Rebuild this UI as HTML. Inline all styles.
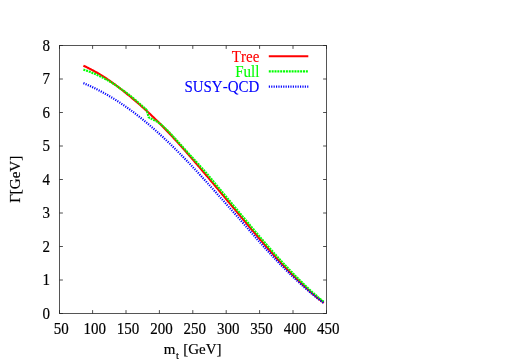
<!DOCTYPE html>
<html><head><meta charset="utf-8"><title>plot</title>
<style>html,body{margin:0;padding:0;background:#fff;width:512px;height:359px;overflow:hidden}</style>
</head><body>
<svg width="512" height="359" viewBox="0 0 512 359" style="position:absolute;left:0;top:0;will-change:transform">
<rect x="0" y="0" width="512" height="359" fill="#fff"/>
<path d="M83.40,65.68 L84.61,66.23 L85.82,66.80 L87.02,67.39 L88.23,67.98 L89.44,68.59 L90.65,69.22 L91.86,69.85 L93.06,70.50 L94.27,71.16 L95.48,71.83 L96.69,72.52 L97.90,73.22 L99.10,73.94 L100.31,74.66 L101.52,75.40 L102.73,76.16 L103.94,76.92 L105.14,77.71 L106.35,78.50 L107.56,79.31 L108.77,80.13 L109.98,80.96 L111.18,81.81 L112.39,82.67 L113.60,83.54 L114.81,84.43 L116.02,85.32 L117.23,86.23 L118.43,87.15 L119.64,88.08 L120.85,89.01 L122.06,89.96 L123.27,90.92 L124.47,91.88 L125.68,92.85 L126.89,93.83 L128.10,94.82 L129.31,95.81 L130.51,96.81 L131.72,97.82 L132.93,98.83 L134.14,99.85 L135.35,100.88 L136.55,101.91 L137.76,102.96 L138.97,104.01 L140.18,105.06 L141.39,106.13 L142.59,107.20 L143.80,108.29 L145.01,109.38 L146.22,110.48 L147.43,111.59 L148.63,112.71 L149.84,113.84 L151.05,114.98 L152.26,116.14 L153.47,117.30 L154.67,118.47 L155.88,119.65 L157.09,120.84 L158.30,122.04 L159.51,123.25 L160.71,124.47 L161.92,125.70 L163.13,126.94 L164.34,128.19 L165.55,129.44 L166.75,130.71 L167.96,131.98 L169.17,133.26 L170.38,134.54 L171.59,135.84 L172.79,137.14 L174.00,138.44 L175.21,139.76 L176.42,141.08 L177.63,142.40 L178.84,143.74 L180.04,145.08 L181.25,146.42 L182.46,147.77 L183.67,149.13 L184.88,150.49 L186.08,151.86 L187.29,153.23 L188.50,154.61 L189.71,155.99 L190.92,157.37 L192.12,158.76 L193.33,160.16 L194.54,161.56 L195.75,162.96 L196.96,164.37 L198.16,165.78 L199.37,167.19 L200.58,168.61 L201.79,170.03 L203.00,171.45 L204.20,172.87 L205.41,174.30 L206.62,175.73 L207.83,177.17 L209.04,178.60 L210.24,180.04 L211.45,181.48 L212.66,182.92 L213.87,184.36 L215.08,185.80 L216.28,187.24 L217.49,188.69 L218.70,190.13 L219.91,191.58 L221.12,193.03 L222.32,194.47 L223.53,195.92 L224.74,197.37 L225.95,198.82 L227.16,200.26 L228.36,201.71 L229.57,203.16 L230.78,204.61 L231.99,206.05 L233.20,207.50 L234.41,208.94 L235.61,210.39 L236.82,211.83 L238.03,213.28 L239.24,214.72 L240.45,216.16 L241.65,217.60 L242.86,219.04 L244.07,220.48 L245.28,221.92 L246.49,223.35 L247.69,224.79 L248.90,226.22 L250.11,227.65 L251.32,229.08 L252.53,230.50 L253.73,231.92 L254.94,233.34 L256.15,234.76 L257.36,236.18 L258.57,237.59 L259.77,238.99 L260.98,240.40 L262.19,241.80 L263.40,243.19 L264.61,244.58 L265.81,245.97 L267.02,247.35 L268.23,248.72 L269.44,250.09 L270.65,251.45 L271.85,252.81 L273.06,254.16 L274.27,255.50 L275.48,256.84 L276.69,258.17 L277.89,259.49 L279.10,260.80 L280.31,262.11 L281.52,263.40 L282.73,264.69 L283.93,265.97 L285.14,267.24 L286.35,268.51 L287.56,269.76 L288.77,271.00 L289.97,272.24 L291.18,273.46 L292.39,274.67 L293.60,275.88 L294.81,277.07 L296.02,278.25 L297.22,279.43 L298.43,280.59 L299.64,281.74 L300.85,282.90 L302.06,284.07 L303.26,285.22 L304.47,286.36 L305.68,287.49 L306.89,288.60 L308.10,289.71 L309.30,290.80 L310.51,291.88 L311.72,292.94 L312.93,294.00 L314.14,295.04 L315.34,296.07 L316.55,297.08 L317.76,298.08 L318.97,299.07 L320.18,300.04 L321.38,301.00 L322.59,301.94 L323.80,302.87" fill="none" stroke="#ff0000" stroke-width="2.1"/>
<path d="M83.40,69.58 L84.47,69.93 L85.54,70.29 L86.61,70.66 L87.68,71.04 L88.75,71.43 L89.82,71.84 L90.89,72.25 L91.96,72.68 L93.03,73.12 L94.09,73.56 L95.16,74.03 L96.23,74.50 L97.30,74.98 L98.37,75.48 L99.44,75.98 L100.51,76.50 L101.58,77.04 L102.65,77.58 L103.72,78.14 L104.79,78.70 L105.86,79.28 L106.93,79.88 L108.00,80.48 L109.07,81.10 L110.14,81.73 L111.21,82.38 L112.28,83.04 L113.35,83.71 L114.42,84.39 L115.48,85.09 L116.55,85.81 L117.62,86.55 L118.69,87.29 L119.76,88.04 L120.83,88.79 L121.90,89.54 L122.97,90.31 L124.04,91.08 L125.11,91.86 L126.18,92.64 L127.25,93.43 L128.32,94.23 L129.39,95.03 L130.46,95.87 L131.53,96.76 L132.60,97.65 L133.67,98.55 L134.74,99.46 L135.81,100.37 L136.87,101.29 L137.94,102.21 L139.01,103.14 L140.08,104.08 L141.15,105.02 L142.22,105.97 L143.29,106.93 L144.36,107.89 L145.43,108.86 L146.50,109.84 L147.80,114.00 L148.60,117.00 L149.80,118.10 L151.60,118.80 L154.40,120.30 L157.00,121.55 L158.20,122.44 L159.40,123.33 L160.60,124.23 L161.80,125.14 L163.00,126.21 L164.20,127.32 L165.40,128.45 L166.60,129.57 L167.80,130.79 L169.00,132.05 L170.20,133.32 L171.40,134.59 L172.60,135.87 L173.80,137.16 L175.00,138.46 L176.20,139.76 L177.40,141.07 L178.60,142.39 L179.80,143.71 L181.00,145.03 L182.20,146.37 L183.40,147.71 L184.60,149.05 L185.80,150.40 L187.00,151.75 L188.20,153.10 L189.40,154.39 L190.60,155.69 L191.80,156.98 L193.00,158.29 L194.20,159.60 L195.40,160.91 L196.60,162.22 L197.80,163.54 L199.00,164.86 L200.20,166.18 L201.40,167.51 L202.60,168.84 L203.80,170.18 L205.00,171.51 L206.20,172.86 L207.40,174.28 L208.60,175.71 L209.80,177.13 L211.00,178.56 L212.20,179.99 L213.40,181.42 L214.60,182.86 L215.80,184.29 L217.00,185.73 L218.20,187.16 L219.40,188.60 L220.60,190.04 L221.80,191.48 L223.00,192.92 L224.20,194.36 L225.40,195.80 L226.60,197.24 L227.80,198.68 L229.00,200.12 L230.20,201.56 L231.40,203.00 L232.60,204.44 L233.80,205.87 L235.00,207.31 L236.20,208.75 L237.40,210.19 L238.60,211.63 L239.80,213.06 L241.00,214.50 L242.20,215.93 L243.40,217.36 L244.60,218.80 L245.80,220.23 L247.00,221.66 L248.20,223.08 L249.40,224.51 L250.60,225.93 L251.80,227.36 L253.00,228.78 L254.20,230.19 L255.40,231.61 L256.60,233.02 L257.80,234.43 L259.00,235.84 L260.20,237.24 L261.40,238.64 L262.60,240.04 L263.80,241.43 L265.00,242.82 L266.20,244.20 L267.40,245.58 L268.60,246.95 L269.80,248.32 L271.00,249.68 L272.20,251.03 L273.40,252.38 L274.60,253.72 L275.80,255.06 L277.00,256.39 L278.20,257.71 L279.40,259.03 L280.60,260.33 L281.80,261.63 L283.00,262.92 L284.20,264.20 L285.40,265.48 L286.60,266.74 L287.80,268.00 L289.00,269.25 L290.20,270.49 L291.40,271.74 L292.60,272.99 L293.80,274.22 L295.00,275.44 L296.20,276.66 L297.40,277.86 L298.60,279.05 L299.80,280.23 L301.00,281.40 L302.20,282.58 L303.40,283.76 L304.60,284.93 L305.80,286.09 L307.00,287.24 L308.20,288.37 L309.40,289.49 L310.60,290.60 L311.80,291.70 L313.00,292.78 L314.20,293.85 L315.40,294.90 L316.60,295.95 L317.80,296.98 L319.00,297.99 L320.20,298.99 L321.40,299.98 L322.60,300.95 L323.80,301.91" fill="none" stroke="#00ff00" stroke-width="2.2" stroke-dasharray="2.0 0.85"/>
<path d="M83.40,83.12 L84.61,83.62 L85.82,84.14 L87.02,84.66 L88.23,85.20 L89.44,85.74 L90.65,86.30 L91.86,86.86 L93.06,87.43 L94.27,88.01 L95.48,88.60 L96.69,89.20 L97.90,89.82 L99.10,90.44 L100.31,91.07 L101.52,91.71 L102.73,92.36 L103.94,93.02 L105.14,93.69 L106.35,94.37 L107.56,95.06 L108.77,95.76 L109.98,96.47 L111.18,97.19 L112.39,97.92 L113.60,98.66 L114.81,99.41 L116.02,100.17 L117.23,100.94 L118.43,101.72 L119.64,102.51 L120.85,103.31 L122.06,104.12 L123.27,104.94 L124.47,105.77 L125.68,106.61 L126.89,107.46 L128.10,108.32 L129.31,109.19 L130.51,110.07 L131.72,110.95 L132.93,111.85 L134.14,112.76 L135.35,113.68 L136.55,114.61 L137.76,115.54 L138.97,116.49 L140.18,117.45 L141.39,118.41 L142.59,119.39 L143.80,120.37 L145.01,121.36 L146.22,122.36 L147.43,123.38 L148.63,124.40 L149.84,125.43 L151.05,126.46 L152.26,127.51 L153.47,128.57 L154.67,129.63 L155.88,130.70 L157.09,131.78 L158.30,132.87 L159.51,133.97 L160.71,135.08 L161.92,136.19 L163.13,137.31 L164.34,138.44 L165.55,139.58 L166.75,140.73 L167.96,141.88 L169.17,143.04 L170.38,144.21 L171.59,145.38 L172.79,146.57 L174.00,147.76 L175.21,148.95 L176.42,150.16 L177.63,151.37 L178.84,152.59 L180.04,153.81 L181.25,155.04 L182.46,156.28 L183.67,157.52 L184.88,158.77 L186.08,160.02 L187.29,161.28 L188.50,162.55 L189.71,163.82 L190.92,165.10 L192.12,166.38 L193.33,167.67 L194.54,168.96 L195.75,170.25 L196.96,171.55 L198.16,172.86 L199.37,174.17 L200.58,175.48 L201.79,176.80 L203.00,178.12 L204.20,179.45 L205.41,180.77 L206.62,182.10 L207.83,183.44 L209.04,184.77 L210.24,186.11 L211.45,187.45 L212.66,188.80 L213.87,190.14 L215.08,191.49 L216.28,192.84 L217.49,194.19 L218.70,195.54 L219.91,196.89 L221.12,198.25 L222.32,199.60 L223.53,200.96 L224.74,202.31 L225.95,203.67 L227.16,205.03 L228.36,206.39 L229.57,207.75 L230.78,209.11 L231.99,210.47 L233.20,211.83 L234.41,213.19 L235.61,214.56 L236.82,215.92 L238.03,217.29 L239.24,218.65 L240.45,220.02 L241.65,221.41 L242.86,222.80 L244.07,224.19 L245.28,225.58 L246.49,226.97 L247.69,228.36 L248.90,229.75 L250.11,231.14 L251.32,232.52 L252.53,233.91 L253.73,235.29 L254.94,236.68 L256.15,238.05 L257.36,239.43 L258.57,240.80 L259.77,242.17 L260.98,243.52 L262.19,244.86 L263.40,246.19 L264.61,247.52 L265.81,248.85 L267.02,250.17 L268.23,251.48 L269.44,252.79 L270.65,254.09 L271.85,255.39 L273.06,256.67 L274.27,257.96 L275.48,259.23 L276.69,260.50 L277.89,261.76 L279.10,263.01 L280.31,264.26 L281.52,265.50 L282.73,266.73 L283.93,267.95 L285.14,269.16 L286.35,270.37 L287.56,271.56 L288.77,272.75 L289.97,273.93 L291.18,275.10 L292.39,276.26 L293.60,277.41 L294.81,278.55 L296.02,279.69 L297.22,280.81 L298.43,281.92 L299.64,283.03 L300.85,284.13 L302.06,285.23 L303.26,286.33 L304.47,287.41 L305.68,288.48 L306.89,289.54 L308.10,290.58 L309.30,291.62 L310.51,292.64 L311.72,293.66 L312.93,294.66 L314.14,295.65 L315.34,296.62 L316.55,297.59 L317.76,298.54 L318.97,299.48 L320.18,300.40 L321.38,301.31 L322.59,302.21 L323.80,303.10" fill="none" stroke="#0000ff" stroke-width="2.2" stroke-dasharray="1.15 1.25"/>
<path d="M268.8,56.2 H308.3" stroke="#ff0000" stroke-width="2.1"/>
<path d="M268.8,71.3 H308.3" stroke="#00ff00" stroke-width="2.2" stroke-dasharray="2.0 0.85"/>
<path d="M268.8,86.6 H308.3" stroke="#0000ff" stroke-width="2.2" stroke-dasharray="1.15 1.25"/>
<rect x="59.5" y="45.5" width="267.0" height="268.0" fill="none" stroke="#444" stroke-width="0.9"/>
<path d="M59.50,313.5 v-3.4 M59.50,45.5 v3.4 M59.5,313.50 h3.4 M326.5,313.50 h-3.4 M92.60,313.5 v-3.4 M92.60,45.5 v3.4 M59.5,280.00 h3.4 M326.5,280.00 h-3.4 M126.00,313.5 v-3.4 M126.00,45.5 v3.4 M59.5,246.50 h3.4 M326.5,246.50 h-3.4 M159.40,313.5 v-3.4 M159.40,45.5 v3.4 M59.5,213.00 h3.4 M326.5,213.00 h-3.4 M192.80,313.5 v-3.4 M192.80,45.5 v3.4 M59.5,179.50 h3.4 M326.5,179.50 h-3.4 M226.20,313.5 v-3.4 M226.20,45.5 v3.4 M59.5,146.00 h3.4 M326.5,146.00 h-3.4 M259.60,313.5 v-3.4 M259.60,45.5 v3.4 M59.5,112.50 h3.4 M326.5,112.50 h-3.4 M293.00,313.5 v-3.4 M293.00,45.5 v3.4 M59.5,79.00 h3.4 M326.5,79.00 h-3.4 M326.50,313.5 v-3.4 M326.50,45.5 v3.4 M59.5,45.50 h3.4 M326.5,45.50 h-3.4" stroke="#222" stroke-width="0.8" fill="none"/>
<text transform="translate(61.30,333.80) scale(1,1.06)" text-anchor="middle" style="font-family:'Liberation Serif',serif;font-size:15px;font-kerning:none" fill="#000" stroke="#000" stroke-width="0.18">50</text>
<text transform="translate(50.00,318.80) scale(1,1.06)" text-anchor="end" style="font-family:'Liberation Serif',serif;font-size:15px;font-kerning:none" fill="#000" stroke="#000" stroke-width="0.18">0</text>
<text transform="translate(94.67,333.80) scale(1,1.06)" text-anchor="middle" style="font-family:'Liberation Serif',serif;font-size:15px;font-kerning:none" fill="#000" stroke="#000" stroke-width="0.18">100</text>
<text transform="translate(50.00,285.30) scale(1,1.06)" text-anchor="end" style="font-family:'Liberation Serif',serif;font-size:15px;font-kerning:none" fill="#000" stroke="#000" stroke-width="0.18">1</text>
<text transform="translate(128.05,333.80) scale(1,1.06)" text-anchor="middle" style="font-family:'Liberation Serif',serif;font-size:15px;font-kerning:none" fill="#000" stroke="#000" stroke-width="0.18">150</text>
<text transform="translate(50.00,251.80) scale(1,1.06)" text-anchor="end" style="font-family:'Liberation Serif',serif;font-size:15px;font-kerning:none" fill="#000" stroke="#000" stroke-width="0.18">2</text>
<text transform="translate(161.43,333.80) scale(1,1.06)" text-anchor="middle" style="font-family:'Liberation Serif',serif;font-size:15px;font-kerning:none" fill="#000" stroke="#000" stroke-width="0.18">200</text>
<text transform="translate(50.00,218.30) scale(1,1.06)" text-anchor="end" style="font-family:'Liberation Serif',serif;font-size:15px;font-kerning:none" fill="#000" stroke="#000" stroke-width="0.18">3</text>
<text transform="translate(194.80,333.80) scale(1,1.06)" text-anchor="middle" style="font-family:'Liberation Serif',serif;font-size:15px;font-kerning:none" fill="#000" stroke="#000" stroke-width="0.18">250</text>
<text transform="translate(50.00,184.80) scale(1,1.06)" text-anchor="end" style="font-family:'Liberation Serif',serif;font-size:15px;font-kerning:none" fill="#000" stroke="#000" stroke-width="0.18">4</text>
<text transform="translate(228.18,333.80) scale(1,1.06)" text-anchor="middle" style="font-family:'Liberation Serif',serif;font-size:15px;font-kerning:none" fill="#000" stroke="#000" stroke-width="0.18">300</text>
<text transform="translate(50.00,151.30) scale(1,1.06)" text-anchor="end" style="font-family:'Liberation Serif',serif;font-size:15px;font-kerning:none" fill="#000" stroke="#000" stroke-width="0.18">5</text>
<text transform="translate(261.55,333.80) scale(1,1.06)" text-anchor="middle" style="font-family:'Liberation Serif',serif;font-size:15px;font-kerning:none" fill="#000" stroke="#000" stroke-width="0.18">350</text>
<text transform="translate(50.00,117.80) scale(1,1.06)" text-anchor="end" style="font-family:'Liberation Serif',serif;font-size:15px;font-kerning:none" fill="#000" stroke="#000" stroke-width="0.18">6</text>
<text transform="translate(294.93,333.80) scale(1,1.06)" text-anchor="middle" style="font-family:'Liberation Serif',serif;font-size:15px;font-kerning:none" fill="#000" stroke="#000" stroke-width="0.18">400</text>
<text transform="translate(50.00,84.30) scale(1,1.06)" text-anchor="end" style="font-family:'Liberation Serif',serif;font-size:15px;font-kerning:none" fill="#000" stroke="#000" stroke-width="0.18">7</text>
<text transform="translate(328.30,333.80) scale(1,1.06)" text-anchor="middle" style="font-family:'Liberation Serif',serif;font-size:15px;font-kerning:none" fill="#000" stroke="#000" stroke-width="0.18">450</text>
<text transform="translate(50.00,50.80) scale(1,1.06)" text-anchor="end" style="font-family:'Liberation Serif',serif;font-size:15px;font-kerning:none" fill="#000" stroke="#000" stroke-width="0.18">8</text>
<text transform="translate(259.30,61.80) scale(1,1.06)" text-anchor="end" style="font-family:'Liberation Serif',serif;font-size:15px;font-kerning:none" fill="#ff0000" stroke="#ff0000" stroke-width="0.1">Tree</text>
<text transform="translate(259.30,76.90) scale(1,1.06)" text-anchor="end" style="font-family:'Liberation Serif',serif;font-size:15px;font-kerning:none" fill="#00ff00" stroke="#00ff00" stroke-width="0.1">Full</text>
<text transform="translate(259.30,92.10) scale(1,1.06)" text-anchor="end" style="font-family:'Liberation Serif',serif;font-size:15px;font-kerning:none" fill="#0000ff" stroke="#0000ff" stroke-width="0.1">SUSY-QCD</text>
<text transform="translate(192.60,354.10) scale(1,0.93)" text-anchor="middle" style="font-family:'Liberation Serif',serif;font-size:15px;font-kerning:none" fill="#000" stroke="#000" stroke-width="0.18">m<tspan dy="5.3" dx="0.8" style="font-size:10.5px">t</tspan><tspan dy="-5.3" dx="0.5"> [GeV]</tspan></text>
<text transform="translate(19.60,179.30) rotate(-90)" text-anchor="middle" style="font-family:'Liberation Serif',serif;font-size:15px;font-kerning:none" fill="#000" stroke="#000" stroke-width="0.18">Γ[GeV]</text>
</svg>
</body></html>
